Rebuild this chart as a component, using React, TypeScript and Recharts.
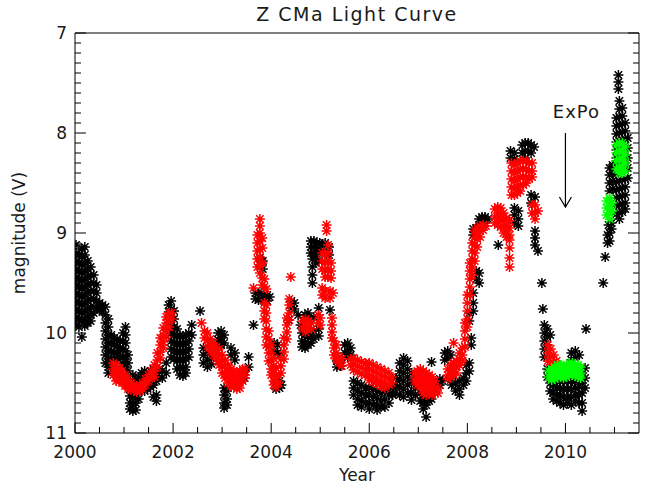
import { ScatterChart, Scatter, XAxis, YAxis, ReferenceLine } from 'recharts';

const W = 664;
const H = 489;

// axis ticks
const yearTicks = [2000, 2002, 2004, 2006, 2008, 2010];
const magTicks = [7, 8, 9, 10, 11];
const yearMinor = Array.from({ length: 23 }, (_, i) => 2000 + i * 0.5);
const magMinor = Array.from({ length: 41 }, (_, i) => (70 + i) / 10);

// V magnitudes, grouped as [year, [mags...]]
const blackObs: [number, number[]][] = [
  [2000.02, [9.12, 9.2, 9.28, 9.36, 9.44, 9.52, 9.6, 9.68, 9.76, 9.84, 9.92]],
  [2000.08, [9.22, 9.3, 9.38, 9.46, 9.54, 9.62, 9.7, 9.78, 9.86, 9.94]],
  [2000.14, [9.16, 9.24, 9.32, 9.4, 9.48, 9.56, 9.64, 9.72, 9.8, 9.88, 10.04]],
  [2000.2, [9.14, 9.22, 9.3, 9.38, 9.46, 9.54, 9.62, 9.7, 9.78, 9.86, 9.93]],
  [2000.26, [9.28, 9.36, 9.44, 9.52, 9.6, 9.68, 9.76, 9.84, 9.9]],
  [2000.32, [9.34, 9.42, 9.5, 9.58, 9.66, 9.74, 9.82, 9.88]],
  [2000.38, [9.42, 9.5, 9.58, 9.66, 9.74, 9.8]],
  [2000.44, [9.52, 9.6, 9.68, 9.75]],
  [2000.5, [9.7, 9.77]],
  [2000.56, [9.72, 9.79]],
  [2000.62, [9.74, 9.82, 9.9, 9.98, 10.06, 10.14, 10.22, 10.3]],
  [2000.68, [9.86, 9.94, 10.02, 10.1, 10.18, 10.26, 10.34, 10.4]],
  [2000.74, [10.02, 10.1, 10.18, 10.26, 10.34]],
  [2000.8, [10.05, 10.12, 10.2, 10.26]],
  [2000.86, [10.06, 10.13, 10.2, 10.26]],
  [2000.92, [10.08, 10.16, 10.24]],
  [2000.98, [10.0, 10.08, 10.16, 10.24, 10.3]],
  [2001.03, [9.94, 10.02, 10.1, 10.18, 10.26, 10.34]],
  [2001.08, [10.22, 10.3, 10.38, 10.46]],
  [2001.12, [10.56, 10.63, 10.7, 10.76]],
  [2001.18, [10.42, 10.5, 10.58, 10.65, 10.72, 10.78]],
  [2001.24, [10.46, 10.54, 10.62, 10.7, 10.77]],
  [2001.3, [10.44, 10.5, 10.58, 10.66]],
  [2001.36, [10.4, 10.47, 10.54]],
  [2001.42, [10.38, 10.45, 10.52, 10.58]],
  [2001.48, [10.42, 10.5, 10.56]],
  [2001.54, [10.38, 10.46, 10.54]],
  [2001.6, [10.36, 10.44, 10.52, 10.64]],
  [2001.66, [10.4, 10.48, 10.62, 10.68]],
  [2001.72, [10.36, 10.44]],
  [2001.78, [10.38, 10.45]],
  [2001.86, [10.3, 10.4]],
  [2001.91, [9.72, 9.79, 9.86]],
  [2001.96, [9.68, 9.76, 9.84, 9.92, 10.0, 10.08, 10.16, 10.24]],
  [2002.02, [9.78, 9.86, 9.94, 10.02, 10.1, 10.18, 10.26]],
  [2002.08, [9.96, 10.04, 10.12, 10.2, 10.28, 10.36]],
  [2002.14, [10.02, 10.1, 10.18, 10.26, 10.34, 10.42]],
  [2002.2, [10.04, 10.12, 10.2, 10.28, 10.36, 10.43]],
  [2002.26, [10.02, 10.1, 10.18, 10.26, 10.34, 10.4]],
  [2002.32, [10.0, 10.08, 10.16, 10.24]],
  [2002.38, [9.92, 10.02]],
  [2002.55, [9.78]],
  [2002.62, [10.15, 10.22, 10.3]],
  [2002.7, [10.2, 10.27, 10.34]],
  [2002.78, [10.25, 10.31]],
  [2002.92, [10.0, 10.07, 10.14]],
  [2002.98, [9.98, 10.05, 10.12]],
  [2003.04, [10.02, 10.1, 10.55, 10.62, 10.7, 10.75]],
  [2003.1, [10.58, 10.66, 10.72]],
  [2003.18, [10.15, 10.22]],
  [2003.26, [10.2, 10.27]],
  [2003.4, [10.4, 10.46]],
  [2003.46, [10.38, 10.45]],
  [2003.54, [10.24, 10.34]],
  [2003.64, [9.92]],
  [2003.68, [9.6, 9.66]],
  [2003.74, [9.6, 9.67]],
  [2003.77, [9.25, 9.32]],
  [2003.8, [9.6, 9.66]],
  [2003.83, [9.28, 9.36]],
  [2003.86, [9.62, 9.68]],
  [2003.92, [9.62, 9.68]],
  [2003.97, [9.64]],
  [2004.06, [10.1, 10.18]],
  [2004.1, [10.5, 10.56]],
  [2004.13, [10.12, 10.2]],
  [2004.17, [10.22, 10.48, 10.55]],
  [2004.21, [10.52]],
  [2004.35, [9.87]],
  [2004.41, [9.68, 9.75]],
  [2004.47, [9.7, 9.76]],
  [2004.55, [9.82]],
  [2004.6, [9.92]],
  [2004.63, [10.0, 10.08, 10.14]],
  [2004.69, [9.82, 10.02, 10.1, 10.15]],
  [2004.75, [9.8, 9.86, 10.04, 10.12]],
  [2004.81, [9.08, 9.14, 9.2, 10.02, 10.1]],
  [2004.84, [9.26, 9.34, 9.42, 9.5]],
  [2004.87, [9.08, 9.14, 9.2, 9.84, 9.98, 10.06]],
  [2004.91, [9.24, 9.3]],
  [2004.93, [9.1, 9.16]],
  [2004.97, [9.28, 9.75, 9.96, 10.03]],
  [2004.99, [9.1, 9.18]],
  [2005.04, [9.12, 9.2]],
  [2005.1, [9.1, 9.18]],
  [2005.18, [9.14, 9.22]],
  [2005.2, [9.77]],
  [2005.34, [10.28, 10.34]],
  [2005.42, [10.27, 10.33]],
  [2005.5, [10.12, 10.2]],
  [2005.56, [10.1, 10.18, 10.24]],
  [2005.62, [10.15, 10.22]],
  [2005.68, [10.48, 10.55, 10.62]],
  [2005.76, [10.5, 10.58, 10.66, 10.72]],
  [2005.84, [10.52, 10.6, 10.68, 10.74]],
  [2005.92, [10.55, 10.62, 10.7]],
  [2006.0, [10.55, 10.62, 10.7, 10.76]],
  [2006.08, [10.56, 10.64, 10.72]],
  [2006.16, [10.58, 10.65, 10.72, 10.77]],
  [2006.24, [10.6, 10.68, 10.74]],
  [2006.32, [10.58, 10.66, 10.74]],
  [2006.4, [10.56, 10.62, 10.7]],
  [2006.48, [10.55, 10.62]],
  [2006.54, [10.45, 10.52, 10.6]],
  [2006.62, [10.3, 10.38, 10.46, 10.54, 10.62]],
  [2006.7, [10.25, 10.32, 10.4, 10.48, 10.56, 10.64]],
  [2006.78, [10.28, 10.36, 10.44, 10.52, 10.6]],
  [2006.86, [10.4, 10.5, 10.6, 10.67]],
  [2006.94, [10.45, 10.55, 10.62]],
  [2007.04, [10.6, 10.68]],
  [2007.1, [10.62, 10.7, 10.76]],
  [2007.16, [10.65, 10.72, 10.84]],
  [2007.22, [10.6, 10.68]],
  [2007.27, [10.29, 10.6, 10.66]],
  [2007.36, [10.5, 10.56]],
  [2007.44, [10.46, 10.52]],
  [2007.5, [10.48]],
  [2007.54, [10.2, 10.27]],
  [2007.6, [10.18, 10.25]],
  [2007.66, [10.22]],
  [2007.68, [10.45, 10.52]],
  [2007.76, [10.5, 10.58]],
  [2007.84, [10.48, 10.56, 10.62]],
  [2007.92, [10.45, 10.52]],
  [2007.98, [10.32, 10.4, 10.48]],
  [2008.04, [9.8, 9.88, 10.3, 10.38]],
  [2008.08, [10.05, 10.12]],
  [2008.12, [8.96, 9.02, 9.6, 9.7, 9.78]],
  [2008.18, [8.95, 9.38, 9.46]],
  [2008.24, [8.86, 8.92, 9.4, 9.5]],
  [2008.3, [8.84, 8.9]],
  [2008.36, [8.84, 8.9]],
  [2008.42, [8.86]],
  [2008.63, [9.12]],
  [2008.88, [8.18, 8.25]],
  [2008.96, [8.2, 8.26, 8.75, 8.82, 8.9]],
  [2009.04, [8.78, 8.86, 8.93]],
  [2009.12, [8.12, 8.2]],
  [2009.18, [8.1, 8.18, 8.25]],
  [2009.24, [8.1, 8.18]],
  [2009.3, [8.12, 8.2, 8.62, 8.7]],
  [2009.36, [8.14]],
  [2009.38, [8.64, 8.98, 9.05, 9.12]],
  [2009.44, [9.18]],
  [2009.52, [9.5]],
  [2009.54, [9.76]],
  [2009.57, [9.92, 10.0, 10.08, 10.16, 10.24]],
  [2009.63, [9.96, 10.04, 10.12, 10.36, 10.44]],
  [2009.69, [10.02, 10.42, 10.5, 10.58]],
  [2009.75, [10.45, 10.52, 10.6, 10.66]],
  [2009.82, [10.48, 10.55, 10.62, 10.68]],
  [2009.89, [10.48, 10.55, 10.62, 10.7]],
  [2009.96, [10.48, 10.56, 10.64, 10.72]],
  [2010.04, [10.48, 10.56, 10.64, 10.7]],
  [2010.12, [10.2, 10.27, 10.48, 10.56, 10.64, 10.72]],
  [2010.2, [10.18, 10.25, 10.48, 10.55, 10.62, 10.68]],
  [2010.28, [10.22, 10.46, 10.54, 10.62, 10.7]],
  [2010.34, [10.4, 10.5, 10.6, 10.7, 10.78]],
  [2010.4, [10.35, 10.45, 10.55]],
  [2010.42, [9.96]],
  [2010.77, [9.5]],
  [2010.81, [9.24]],
  [2010.86, [9.02, 9.1]],
  [2010.88, [8.92]],
  [2010.9, [8.35, 8.42, 8.5, 8.58, 9.0, 9.08]],
  [2010.94, [8.9, 8.96]],
  [2010.96, [8.32, 8.4, 8.48, 8.56]],
  [2011.04, [7.85, 7.93, 8.01, 8.09, 8.17, 8.25, 8.33, 8.41, 8.49, 8.57, 8.65, 8.73, 8.81]],
  [2011.08, [7.42, 7.49, 7.56]],
  [2011.1, [7.68, 7.76, 7.84, 7.92, 8.0, 8.08, 8.16, 8.24, 8.32, 8.4, 8.48, 8.56, 8.64, 8.72, 8.8, 8.86]],
  [2011.16, [7.75, 7.83, 7.91, 7.99, 8.07, 8.15, 8.23, 8.31, 8.39, 8.47, 8.55, 8.63, 8.71, 8.79]],
  [2011.22, [7.9, 7.98, 8.06, 8.14, 8.22, 8.3, 8.38, 8.46, 8.54, 8.62, 8.7, 8.76]],
  [2011.27, [8.05, 8.15, 8.25, 8.35, 8.45]],
];

const redObs: [number, number[]][] = [
  [2000.78, [10.3, 10.36, 10.42]],
  [2000.84, [10.32, 10.38, 10.44, 10.48]],
  [2000.9, [10.35, 10.42, 10.48]],
  [2000.96, [10.38, 10.44, 10.5]],
  [2001.02, [10.42, 10.48, 10.53]],
  [2001.08, [10.46, 10.52, 10.56]],
  [2001.14, [10.5, 10.56]],
  [2001.2, [10.52, 10.58]],
  [2001.26, [10.54, 10.59]],
  [2001.32, [10.52, 10.58]],
  [2001.38, [10.5, 10.56]],
  [2001.44, [10.46, 10.52]],
  [2001.5, [10.42, 10.48]],
  [2001.56, [10.38, 10.44]],
  [2001.62, [10.32, 10.38, 10.44]],
  [2001.68, [10.2, 10.27, 10.34]],
  [2001.74, [10.05, 10.12, 10.19, 10.25]],
  [2001.8, [9.95, 10.02, 10.09, 10.15]],
  [2001.86, [9.84, 9.9, 9.97, 10.04]],
  [2001.92, [9.8, 9.86, 9.94]],
  [2001.97, [9.8, 9.86]],
  [2002.58, [9.9]],
  [2002.64, [9.98, 10.05]],
  [2002.7, [10.0, 10.07, 10.13]],
  [2002.76, [10.06, 10.12, 10.18]],
  [2002.82, [10.1, 10.16, 10.22]],
  [2002.88, [10.14, 10.2, 10.26]],
  [2002.94, [10.16, 10.22, 10.28, 10.32]],
  [2003.0, [10.22, 10.28, 10.34, 10.4]],
  [2003.06, [10.27, 10.33, 10.4, 10.45]],
  [2003.12, [10.32, 10.38, 10.44, 10.5]],
  [2003.18, [10.36, 10.42, 10.48, 10.53]],
  [2003.24, [10.38, 10.44, 10.5, 10.54]],
  [2003.3, [10.4, 10.46, 10.52, 10.56]],
  [2003.36, [10.38, 10.44, 10.5, 10.55]],
  [2003.42, [10.36, 10.42, 10.48]],
  [2003.47, [10.36, 10.42]],
  [2003.64, [9.55]],
  [2003.72, [9.02, 9.1, 9.18, 9.26, 9.34]],
  [2003.77, [8.86, 8.93, 9.0, 9.08, 9.16, 9.24, 9.32, 9.4]],
  [2003.82, [9.05, 9.15, 9.3, 9.45, 9.52]],
  [2003.86, [9.46, 9.54, 9.7, 9.78, 9.86]],
  [2003.9, [9.56, 9.72, 9.8, 9.88, 9.96, 10.04, 10.12]],
  [2003.95, [9.98, 10.06, 10.14, 10.2, 10.28]],
  [2004.0, [10.12, 10.2, 10.28, 10.36, 10.42]],
  [2004.05, [10.25, 10.33, 10.4, 10.48, 10.52]],
  [2004.1, [10.35, 10.42, 10.48, 10.54]],
  [2004.15, [10.42, 10.5]],
  [2004.2, [10.26, 10.33, 10.4]],
  [2004.26, [10.05, 10.12, 10.19, 10.26]],
  [2004.32, [9.85, 9.92, 9.99, 10.06]],
  [2004.37, [9.66, 9.72, 9.8, 9.87]],
  [2004.4, [9.44]],
  [2004.64, [9.88, 9.95]],
  [2004.7, [9.86, 9.93, 9.99]],
  [2004.76, [9.88, 9.95]],
  [2004.82, [9.9, 9.96]],
  [2004.96, [9.82, 9.9]],
  [2005.0, [9.85, 9.92]],
  [2005.04, [9.2, 9.28, 9.36, 9.55, 9.62]],
  [2005.1, [9.22, 9.3, 9.38, 9.44, 9.58, 9.65]],
  [2005.13, [8.92, 8.98]],
  [2005.16, [9.12, 9.2, 9.28, 9.36, 9.44]],
  [2005.2, [9.58, 9.65]],
  [2005.22, [9.3, 9.38, 9.45]],
  [2005.24, [9.85, 9.92, 9.99, 10.05]],
  [2005.26, [9.6]],
  [2005.28, [10.08, 10.15, 10.22]],
  [2005.33, [10.12, 10.2, 10.26]],
  [2005.38, [10.24, 10.3]],
  [2005.44, [10.26, 10.33]],
  [2005.62, [10.26, 10.32]],
  [2005.68, [10.25, 10.31, 10.37]],
  [2005.76, [10.27, 10.33, 10.39]],
  [2005.84, [10.29, 10.35, 10.41]],
  [2005.92, [10.3, 10.36, 10.42]],
  [2006.0, [10.3, 10.36, 10.42, 10.47]],
  [2006.08, [10.32, 10.38, 10.44, 10.49]],
  [2006.16, [10.34, 10.4, 10.46, 10.51]],
  [2006.24, [10.36, 10.42, 10.48, 10.53]],
  [2006.32, [10.38, 10.44, 10.5, 10.55]],
  [2006.4, [10.4, 10.46, 10.52]],
  [2006.46, [10.44, 10.5]],
  [2006.92, [10.4, 10.48]],
  [2006.98, [10.38, 10.45, 10.52]],
  [2007.04, [10.36, 10.42, 10.48, 10.54]],
  [2007.1, [10.38, 10.44, 10.5, 10.56, 10.6]],
  [2007.16, [10.4, 10.46, 10.52, 10.58, 10.62]],
  [2007.22, [10.42, 10.48, 10.54, 10.6]],
  [2007.28, [10.44, 10.5, 10.56, 10.62]],
  [2007.34, [10.48, 10.54, 10.6]],
  [2007.4, [10.55, 10.6]],
  [2007.6, [10.36, 10.42, 10.46]],
  [2007.66, [10.32, 10.38, 10.44]],
  [2007.72, [10.1, 10.3, 10.36, 10.42]],
  [2007.78, [10.28, 10.34, 10.4]],
  [2007.84, [10.2, 10.26, 10.32]],
  [2007.9, [10.15, 10.22, 10.28]],
  [2007.95, [9.9, 9.98, 10.06, 10.14]],
  [2008.0, [9.62, 9.7, 9.78, 9.86, 9.94]],
  [2008.05, [9.3, 9.38, 9.46, 9.54, 9.62]],
  [2008.1, [9.1, 9.18, 9.26, 9.34, 9.42]],
  [2008.15, [8.98, 9.04, 9.12, 9.2, 9.28]],
  [2008.2, [8.95, 9.0, 9.06, 9.14]],
  [2008.26, [8.93, 8.98, 9.04]],
  [2008.32, [8.92, 8.97]],
  [2008.38, [8.93]],
  [2008.56, [8.76, 8.84, 8.9]],
  [2008.62, [8.74, 8.8, 8.86, 8.92]],
  [2008.68, [8.75, 8.82, 8.88, 8.94]],
  [2008.74, [8.8, 8.87, 8.94, 9.0]],
  [2008.8, [8.85, 8.92, 8.98, 9.04]],
  [2008.86, [8.88, 8.95, 9.02, 9.07, 9.15, 9.25, 9.34]],
  [2008.9, [8.3, 8.38, 8.46, 8.54, 8.62]],
  [2008.96, [8.32, 8.4, 8.48, 8.56, 8.62]],
  [2009.02, [8.3, 8.38, 8.46, 8.54, 8.6]],
  [2009.08, [8.28, 8.36, 8.44, 8.52, 8.58]],
  [2009.14, [8.28, 8.36, 8.44, 8.52]],
  [2009.2, [8.28, 8.36, 8.44, 8.5]],
  [2009.26, [8.3, 8.38, 8.46]],
  [2009.32, [8.3, 8.38, 8.44, 8.72, 8.8]],
  [2009.38, [8.72, 8.8, 8.86]],
  [2009.44, [8.78]],
  [2009.64, [10.12, 10.2, 10.28]],
  [2009.7, [10.16, 10.24, 10.32]],
  [2009.76, [10.22, 10.3]],
  [2009.82, [10.28]],
];

const greenObs: [number, number[]][] = [
  [2009.66, [10.38, 10.44]],
  [2009.72, [10.36, 10.42, 10.47]],
  [2009.78, [10.34, 10.4, 10.46]],
  [2009.84, [10.32, 10.38, 10.44]],
  [2009.9, [10.32, 10.38, 10.44]],
  [2009.96, [10.33, 10.39, 10.45]],
  [2010.02, [10.32, 10.38, 10.44]],
  [2010.08, [10.3, 10.36, 10.42]],
  [2010.14, [10.3, 10.36, 10.42]],
  [2010.2, [10.31, 10.37, 10.43]],
  [2010.26, [10.32, 10.38, 10.44]],
  [2010.31, [10.34, 10.4, 10.45]],
  [2010.84, [8.68, 8.75, 8.82]],
  [2010.9, [8.65, 8.72, 8.8, 8.86]],
  [2010.95, [8.7, 8.78]],
  [2011.04, [8.12, 8.2, 8.28, 8.36]],
  [2011.1, [8.1, 8.18, 8.26, 8.34, 8.4]],
  [2011.16, [8.1, 8.18, 8.26, 8.34, 8.4]],
  [2011.22, [8.14, 8.22, 8.3, 8.38]],
];

// ExPo marker: year and magnitude span of the arrow
const expoYear = 2010;
const expoFrom = 8.0;
const expoTo = 8.74;

const flatten = (cols: [number, number[]][]) =>
  cols.flatMap(([year, mags]) => mags.map((mag) => ({ year, mag })));

const blackData = flatten(blackObs);
const redData = flatten(redObs);
const greenData = flatten(greenObs);

const font = { fontFamily: 'DejaVu Sans, sans-serif', fontSize: 17, fill: '#1a1a1a' };

const near = (v: number, list: number[]) => list.some((m) => Math.abs(m - v) < 1e-6);

// IDL style asterisk
const star = (color: string) => (p: any) => {
  const { cx, cy } = p;
  if (cx == null || cy == null) return <g />;
  const r = 5;
  const d = 3.7;
  return (
    <path
      d={`M${cx - r},${cy}H${cx + r}M${cx},${cy - r}V${cy + r}M${cx - d},${cy - d}L${cx + d},${cy + d}M${cx - d},${cy + d}L${cx + d},${cy - d}`}
      stroke={color}
      strokeWidth={1.5}
      fill="none"
    />
  );
};

const BottomTick = (p: any) => {
  const { x, y, payload } = p;
  const major = near(payload.value, yearTicks);
  return (
    <g>
      <line x1={x} x2={x} y1={y} y2={y - (major ? 10 : 6)} stroke="#000" />
      {major && (
        <text x={x} y={y + 25} textAnchor="middle" {...font}>
          {payload.value}
        </text>
      )}
    </g>
  );
};

const TopTick = (p: any) => {
  const { x, y, payload } = p;
  const major = near(payload.value, yearTicks);
  return <line x1={x} x2={x} y1={y} y2={y + (major ? 10 : 6)} stroke="#000" />;
};

const LeftTick = (p: any) => {
  const { x, y, payload } = p;
  const major = near(payload.value, magTicks);
  return (
    <g>
      <line x1={x} x2={x + (major ? 11 : 6)} y1={y} y2={y} stroke="#000" />
      {major && (
        <text x={x - 8} y={y + 6} textAnchor="end" {...font}>
          {payload.value}
        </text>
      )}
    </g>
  );
};

const RightTick = (p: any) => {
  const { x, y, payload } = p;
  const major = near(payload.value, magTicks);
  return <line x1={x} x2={x - (major ? 11 : 6)} y1={y} y2={y} stroke="#000" />;
};

const titleLabel = (p: any) => {
  const vb = p.viewBox;
  return (
    <text x={vb.x + vb.width / 2} y={vb.y + vb.height - 12} textAnchor="middle" {...font} fontSize={19} letterSpacing={1.5}>
      Z CMa Light Curve
    </text>
  );
};

const yearLabel = (p: any) => {
  const vb = p.viewBox;
  return (
    <text x={vb.x + vb.width / 2} y={vb.y + vb.height - 8} textAnchor="middle" {...font}>
      Year
    </text>
  );
};

const magLabel = (p: any) => {
  const vb = p.viewBox;
  const cx = vb.x + 25;
  const cy = vb.y + vb.height / 2;
  return (
    <text x={cx} y={cy} transform={`rotate(-90 ${cx} ${cy})`} textAnchor="middle" {...font}>
      magnitude (V)
    </text>
  );
};

const ExpoArrow = (p: any) => {
  const { x1, y1, x2, y2 } = p;
  const top = Math.min(y1, y2);
  const bot = Math.max(y1, y2);
  return (
    <g>
      <line x1={x1} x2={x2} y1={top} y2={bot} stroke="#000" strokeWidth={1.2} />
      <polyline
        points={`${x2 - 6},${bot - 10} ${x2},${bot} ${x2 + 6},${bot - 10}`}
        fill="none"
        stroke="#000"
        strokeWidth={1.2}
      />
      <text x={x1 + 11} y={top - 15} textAnchor="middle" {...font} fontSize={18} letterSpacing={1}>
        ExPo
      </text>
    </g>
  );
};

export default function App() {
  return (
    <div style={{ position: 'absolute', left: 0, top: 0, width: W, height: H, background: '#fff' }}>
      <ScatterChart width={W} height={H} margin={{ top: 32, right: 24, bottom: 0, left: 0 }}>
        <XAxis
          xAxisId="x"
          type="number"
          dataKey="year"
          domain={[2000, 2011.5]}
          allowDataOverflow
          ticks={yearMinor}
          interval={0}
          height={56}
          tickSize={0}
          tickMargin={0}
          tickLine={false}
          axisLine={{ stroke: '#000' }}
          tick={BottomTick}
          label={yearLabel}
        />
        <XAxis
          xAxisId="xt"
          orientation="top"
          type="number"
          domain={[2000, 2011.5]}
          allowDataOverflow
          ticks={yearMinor}
          interval={0}
          height={1}
          tickSize={0}
          tickMargin={0}
          tickLine={false}
          axisLine={{ stroke: '#000' }}
          tick={TopTick}
          label={titleLabel}
        />
        <YAxis
          yAxisId="y"
          type="number"
          dataKey="mag"
          domain={[7, 11]}
          reversed
          allowDataOverflow
          ticks={magMinor}
          interval={0}
          width={75}
          tickSize={0}
          tickMargin={0}
          tickLine={false}
          axisLine={{ stroke: '#000' }}
          tick={LeftTick}
          label={magLabel}
        />
        <YAxis
          yAxisId="yr"
          orientation="right"
          type="number"
          domain={[7, 11]}
          reversed
          allowDataOverflow
          ticks={magMinor}
          interval={0}
          width={1}
          tickSize={0}
          tickMargin={0}
          tickLine={false}
          axisLine={{ stroke: '#000' }}
          tick={RightTick}
        />
        <Scatter xAxisId="x" yAxisId="y" data={blackData} fill="#000" shape={star('#000')} isAnimationActive={false} />
        <Scatter xAxisId="x" yAxisId="y" data={redData} fill="#ff0000" shape={star('#ff0000')} isAnimationActive={false} />
        <Scatter xAxisId="x" yAxisId="y" data={greenData} fill="#00ff00" shape={star('#00ff00')} isAnimationActive={false} />
        <ReferenceLine
          xAxisId="x"
          yAxisId="y"
          segment={[
            { x: expoYear, y: expoFrom },
            { x: expoYear, y: expoTo },
          ]}
          ifOverflow="visible"
          shape={ExpoArrow}
        />
      </ScatterChart>
    </div>
  );
}
